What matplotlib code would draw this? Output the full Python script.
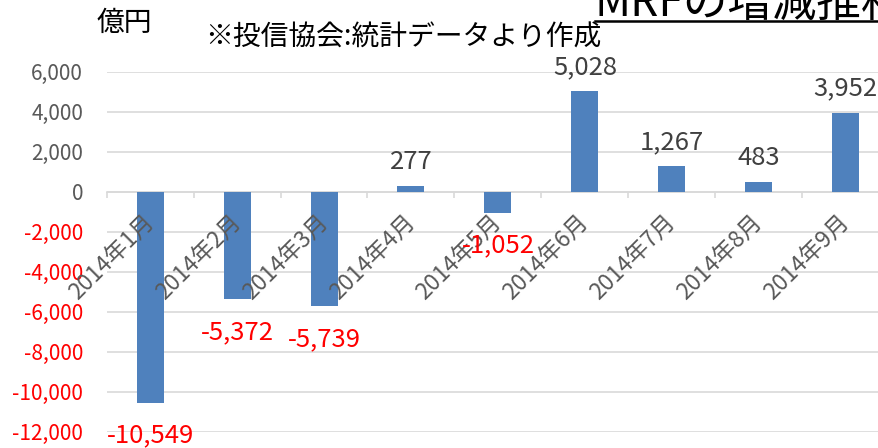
import numpy as np
import matplotlib
matplotlib.use("Agg")
import matplotlib.pyplot as plt
from matplotlib.lines import Line2D

plt.rcParams['font.family'] = ['Noto Sans CJK JP', 'DejaVu Sans']

categories = ["2014年1月", "2014年2月", "2014年3月", "2014年4月", "2014年5月",
              "2014年6月", "2014年7月", "2014年8月", "2014年9月"]
values = [-10549, -5372, -5739, 277, -1052, 5028, 1267, 483, 3952]
yticks = [-12000, -10000, -8000, -6000, -4000, -2000, 0, 2000, 4000, 6000]

W, H = 879, 448
fig = plt.figure(figsize=(W / 100, H / 100), dpi=100)
ax = fig.add_axes([106.7 / W, 1 - 431.7 / H, 782.4 / W, 360 / H])

BAR = '#4F81BD'
GRID = '#D9D9D9'
GRAY = '#595959'
RED = '#FF0000'

x = np.arange(len(categories))
ax.bar(x, values, width=0.31, color=BAR, zorder=3)

ax.set_xlim(-0.5, len(categories) - 0.5)
ax.set_ylim(-12000, 6000)
ax.set_yticks(yticks)
ax.set_yticklabels([f"{v:,}" for v in yticks])
for lbl, v in zip(ax.get_yticklabels(), yticks):
    lbl.set_color(RED if v < 0 else GRAY)
ax.tick_params(axis='y', length=0, pad=17, labelsize=15)
ax.yaxis.grid(True, color=GRID, linewidth=1.2, zorder=0)
ax.set_axisbelow(True)

for s in ['top', 'right', 'left']:
    ax.spines[s].set_visible(False)
ax.spines['bottom'].set_position(('data', 0))
ax.spines['bottom'].set_color(GRID)
ax.spines['bottom'].set_linewidth(1.2)
ax.set_xticks([])
ax.set_xticks(np.arange(len(categories) + 1) - 0.5, minor=True)
ax.tick_params(axis='x', which='minor', length=4.5, width=1.2, color=GRID,
               direction='out')

for i, c in enumerate(categories):
    ax.annotate(c, xy=(i, 0), xytext=(0, -19.5), textcoords='offset points',
                rotation=45, rotation_mode='anchor', ha='right', va='center',
                fontsize=16.5, color=GRAY, zorder=5, annotation_clip=False)

for i, v in enumerate(values):
    if v >= 0:
        ax.annotate(f"{v:,}", xy=(i, v), xytext=(0, 12.2), textcoords='offset points',
                    ha='center', va='baseline', fontsize=18.5, color='#404040',
                    annotation_clip=False, zorder=6)
    else:
        ax.annotate(f"{v:,}", xy=(i, v), xytext=(0, -28.8), textcoords='offset points',
                    ha='center', va='baseline', fontsize=18.5, color=RED,
                    annotation_clip=False, zorder=6)

fig.text(97 / W, 1 - 31 / H, "億円", fontsize=20, va='baseline', ha='left', color='black')
fig.text(205 / W, 1 - 46 / H, "※投信協会:統計データより作成", fontsize=20,
         va='baseline', ha='left', color='black')
fig.text(595 / W, 1 - 16 / H, "MRFの増減推移", fontsize=32, va='baseline', ha='left',
         color='black')
fig.add_artist(Line2D([595 / W, 1.0], [1 - 20.7 / H] * 2, transform=fig.transFigure,
                      color='black', linewidth=1.8))

fig.savefig("out.png", dpi=100)
